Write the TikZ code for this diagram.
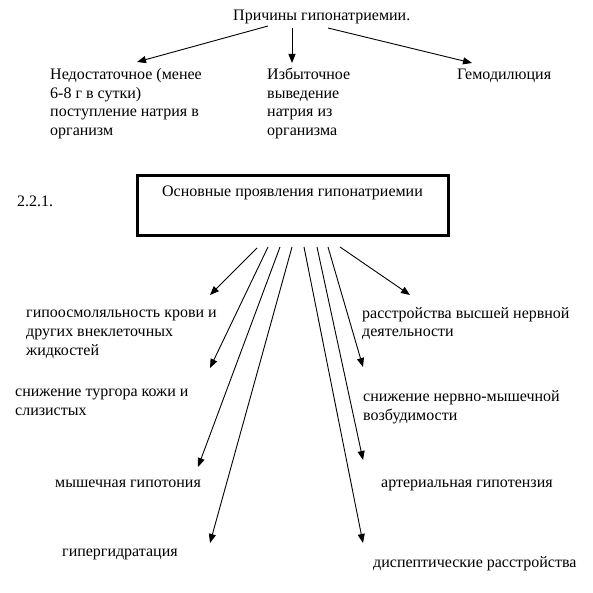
\documentclass[tikz,border=0pt]{standalone}
\usepackage{fontspec}
\setmainfont{Liberation Serif}
\usetikzlibrary{arrows.meta}
\begin{document}
\begin{tikzpicture}[x=1pt,y=-1pt,
  txt/.style={anchor=base west,inner sep=0pt,align=left,font=\fontsize{16}{18.7}\selectfont},
  arr/.style={line width=0.9pt,-{Triangle[length=9pt,width=7pt]}},
  mainbox/.style={draw,line width=3pt,minimum width=311pt,minimum height=60pt,inner sep=0pt}
  ]
\useasboundingbox[fill=white] (0,0) rectangle (593,593);
% texts (multi-line nodes are placed by the baseline of their last line)
\node[txt] (title) at (233,20.5) {Причины гипонатриемии.};
\node[txt] (c1) at (50,135.5) {Недостаточное (менее\\6-8 г в сутки)\\поступление натрия в\\организм};
\node[txt] (c2) at (267,135.5) {Избыточное\\выведение\\натрия из\\организма};
\node[txt] (c3) at (457,79.5) {Гемодилюция};
\node[txt] (num) at (17,206.7) {2.2.1.};
\node[mainbox] (box) at (292.5,205.7) {};
\node[txt,anchor=base] (boxtxt) at (292.5,196.7) {Основные проявления гипонатриемии};
\node[txt] (m1) at (26,355) {гипоосмоляльность крови и\\других внеклеточных\\жидкостей};
\node[txt] (m2) at (15,415) {снижение тургора кожи и\\слизистых};
\node[txt] (m3) at (55,487.5) {мышечная гипотония};
\node[txt] (m4) at (62,556) {гипергидратация};
\node[txt] (m5) at (362,336.7) {расстройства высшей нервной\\деятельности};
\node[txt] (m6) at (363,420) {снижение нервно-мышечной\\возбудимости};
\node[txt] (m7) at (381,487.3) {артериальная гипотензия};
\node[txt] (m8) at (373,567.3) {диспептические расстройства};
% coordinates
\coordinate (t1s) at (268,26);  \coordinate (t1e) at (137,62);
\coordinate (t2s) at (292,28);  \coordinate (t2e) at (292,63);
\coordinate (t3s) at (328,28);  \coordinate (t3e) at (472,63);
\coordinate (l1s) at (257,248); \coordinate (l1e) at (210,295);
\coordinate (l2s) at (268,247); \coordinate (l2e) at (210,368);
\coordinate (l3s) at (280,247); \coordinate (l3e) at (198,467);
\coordinate (l4s) at (292,247); \coordinate (l4e) at (210,543);
\coordinate (r1s) at (340,247); \coordinate (r1e) at (410,295);
\coordinate (r2s) at (328,247); \coordinate (r2e) at (363,367);
\coordinate (r3s) at (317,247); \coordinate (r3e) at (363,460);
\coordinate (r4s) at (304,247); \coordinate (r4e) at (363,543);
% arrows
\foreach \a in {t1,t2,t3,l1,l2,l3,l4,r1,r2,r3,r4}
  \draw[arr] (\a s) -- (\a e);
\end{tikzpicture}
\end{document}
